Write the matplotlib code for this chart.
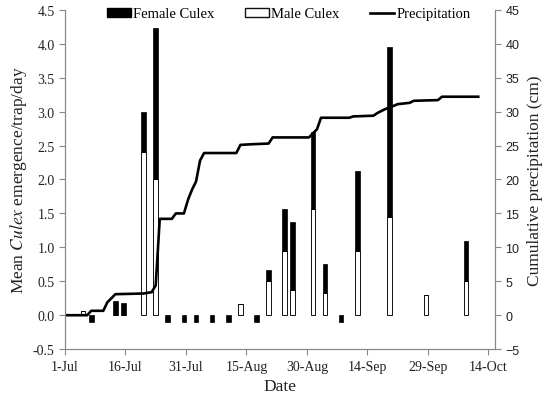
import pandas as pd
import matplotlib
matplotlib.use("Agg")
import matplotlib.pyplot as plt
from matplotlib.patches import Patch
from matplotlib.lines import Line2D

plt.rcParams['font.family'] = ['Liberation Serif', 'DejaVu Serif']
plt.rcParams['mathtext.fontset'] = 'stix'

# trap collections (mean per trap per day)
bar_dates = ['2013-07-05', '2013-07-13', '2013-07-15', '2013-07-20', '2013-07-23',
             '2013-08-13', '2013-08-20', '2013-08-24', '2013-08-26', '2013-08-31',
             '2013-09-03', '2013-09-11', '2013-09-19', '2013-09-28', '2013-10-08']
male = [0.06, 0.0, 0.0, 2.40, 2.00, 0.17, 0.50, 0.95, 0.37, 1.56, 0.33, 0.94, 1.44, 0.30, 0.50]
female = [0.0, 0.21, 0.18, 0.60, 2.23, 0.0, 0.17, 0.62, 1.01, 1.14, 0.43, 1.19, 2.51, 0.0, 0.60]

# sampling dates with no emergence (drawn below zero)
zero_dates = ['2013-07-07', '2013-07-26', '2013-07-30', '2013-08-02', '2013-08-06',
              '2013-08-10', '2013-08-17', '2013-09-07']
zero_mark = [-0.1] * len(zero_dates)

# cumulative precipitation (cm)
rain_dates = ['2013-07-01', '2013-07-06', '2013-07-07', '2013-07-10', '2013-07-11',
              '2013-07-12', '2013-07-13', '2013-07-20', '2013-07-22', '2013-07-23',
              '2013-07-24', '2013-07-27', '2013-07-28', '2013-07-30', '2013-07-31',
              '2013-08-01', '2013-08-02', '2013-08-03', '2013-08-04', '2013-08-12',
              '2013-08-13', '2013-08-16', '2013-08-20', '2013-08-21', '2013-08-30',
              '2013-08-31', '2013-09-01', '2013-09-02', '2013-09-09', '2013-09-10',
              '2013-09-15', '2013-09-16', '2013-09-18', '2013-09-19', '2013-09-21',
              '2013-09-24', '2013-09-25', '2013-10-01', '2013-10-02', '2013-10-11']
rain = [0.0, 0.0, 0.65, 0.65, 1.9, 2.5, 3.1, 3.2, 3.4, 4.4,
        14.2, 14.2, 15.0, 15.0, 17.0, 18.5, 19.7, 22.8, 23.9, 23.9,
        25.1, 25.2, 25.3, 26.2, 26.2, 26.8, 27.4, 29.1, 29.1, 29.3,
        29.4, 29.8, 30.4, 30.6, 31.1, 31.3, 31.6, 31.7, 32.2, 32.2]

tick_dates = pd.date_range('2013-07-01', '2013-10-14', freq='15D')

half = pd.Timedelta(hours=12)
bx = pd.to_datetime(bar_dates) + half
zx = pd.to_datetime(zero_dates) + half
rx = pd.to_datetime(rain_dates) + half

fig = plt.figure(figsize=(5.44, 4.02), dpi=100)
ax = fig.add_axes([0.1195, 0.129, 0.7905, 0.844])
ax2 = ax.twinx()

w = 1.15
ax.bar(bx, male, width=w, color='white', edgecolor='#111111', linewidth=0.7)
ax.bar(bx, female, bottom=male, width=w, color='black', edgecolor='black', linewidth=0.5)
ax.bar(zx, zero_mark, width=w, color='black', edgecolor='black', linewidth=0.5)

ax2.plot(rx, rain, color='black', linewidth=1.9)

ax.set_xlim(pd.Timestamp('2013-07-01'), pd.Timestamp('2013-10-15 16:00'))
ax.set_ylim(-0.5, 4.5)
ax2.set_ylim(-5, 45)
ax.set_yticks([i * 0.5 - 0.5 for i in range(11)])
ax.set_yticklabels([f'{i * 0.5 - 0.5:.1f}' for i in range(11)])
ax2.set_yticks(range(-5, 46, 5))
ax.set_xticks(tick_dates)
ax.set_xticklabels([f"{d.day}-{d.strftime('%b')}" for d in tick_dates])

spine_col = '#888888'
for a in (ax, ax2):
    a.spines['top'].set_visible(False)
    for s in ('left', 'right', 'bottom'):
        a.spines[s].set_color(spine_col)
        a.spines[s].set_linewidth(0.8)
ax.tick_params(axis='both', colors=spine_col, labelcolor='#222222', labelsize=10, length=4, width=0.8)
ax2.tick_params(axis='y', colors=spine_col, labelcolor='#222222', labelsize=9, length=4, width=0.8)
for lab in ax2.get_yticklabels():
    lab.set_family(['Liberation Sans', 'DejaVu Sans'])

ax.set_xlabel('Date', fontsize=12.5, color='#222222', labelpad=4)
ax.set_ylabel(r'Mean $\mathit{Culex}$ emergence/trap/day', fontsize=12.5, color='#222222', labelpad=3)
ax2.set_ylabel('Cumulative precipitation (cm)', fontsize=12.5, color='#222222', labelpad=5)

handles = [Patch(facecolor='black', edgecolor='black'),
           Patch(facecolor='white', edgecolor='#111111'),
           Line2D([], [], color='black', linewidth=1.9)]
fig.legend(handles, ['Female Culex', 'Male Culex', 'Precipitation'], loc='center',
           bbox_to_anchor=(288.5 / 544, 0.963), ncol=3, frameon=False, fontsize=10.5,
           handlelength=1.65, handleheight=0.55, handletextpad=0.15, columnspacing=2.1)

fig.savefig('out.png', dpi=100)
